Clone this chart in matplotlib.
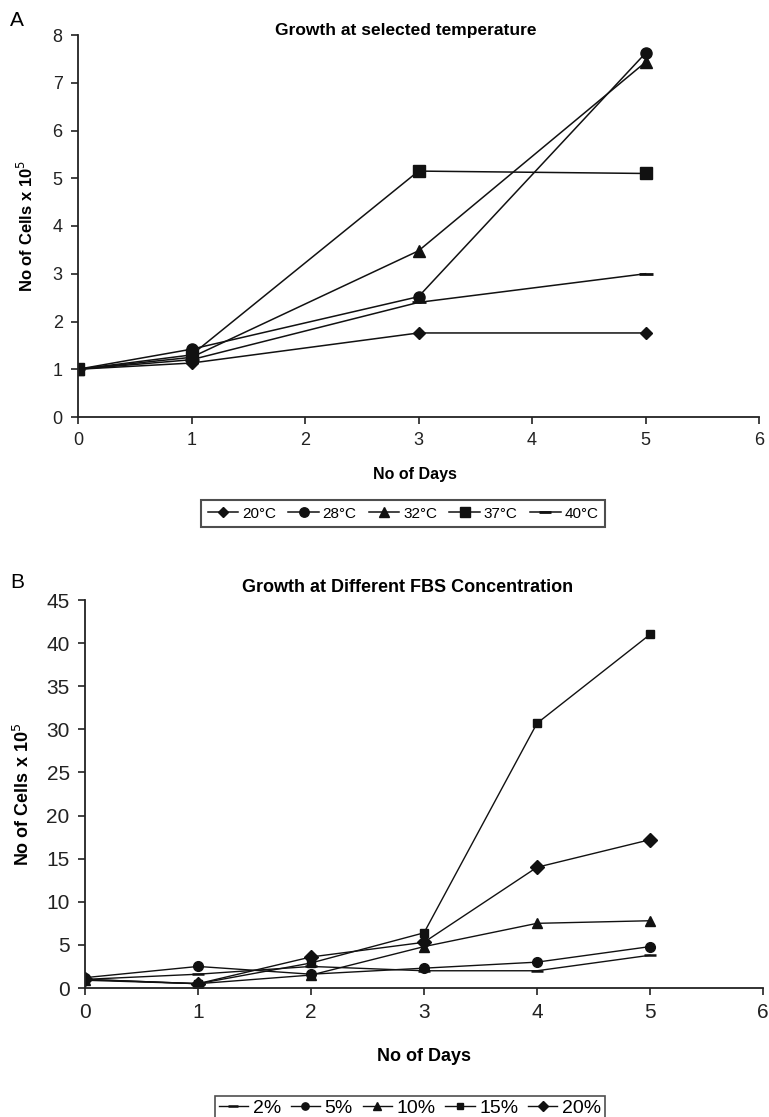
import matplotlib
matplotlib.use("Agg")
import matplotlib.pyplot as plt
from matplotlib import font_manager

# ---------------- data ----------------
days_a = [0, 1, 3, 5]
temp_labels = ["20°C", "28°C", "32°C", "37°C", "40°C"]
t20 = [1.0, 1.13, 1.76, 1.76]
t28 = [1.0, 1.42, 2.52, 7.62]
t32 = [1.0, 1.25, 3.48, 7.43]
t37 = [1.0, 1.30, 5.15, 5.10]
t40 = [1.0, 1.20, 2.40, 3.00]

days_b = [0, 1, 2, 3, 4, 5]
fbs_labels = ["2%", "5%", "10%", "15%", "20%"]
f2 = [1.0, 1.6, 2.5, 2.0, 2.0, 3.8]
f5 = [1.2, 2.5, 1.6, 2.3, 3.0, 4.8]
f10 = [0.9, 0.5, 1.5, 4.8, 7.5, 7.8]
f15 = [1.0, 0.5, 2.9, 6.4, 30.7, 41.0]
f20 = [1.0, 0.5, 3.6, 5.3, 14.0, 17.2]

# ---------------- fonts ----------------
names = {f.name for f in font_manager.fontManager.ttflist}
narrow = "Liberation Sans Narrow" if "Liberation Sans Narrow" in names else "Liberation Sans"
reg = "Liberation Sans"

W, H = 769, 1117
fig = plt.figure(figsize=(W / 100, H / 100), dpi=100)

def px_axes(x0, x1, ytop, ybot):
    return fig.add_axes([x0 / W, 1 - ybot / H, (x1 - x0) / W, (ybot - ytop) / H])

def style(ax, fam, tsize):
    for s in ["top", "right"]:
        ax.spines[s].set_visible(False)
    for s in ["left", "bottom"]:
        ax.spines[s].set_linewidth(1.3)
        ax.spines[s].set_color("#222222")
    ax.tick_params(direction="out", length=5, width=1.2, colors="#222222",
                   labelsize=tsize, pad=6)
    for lab in ax.get_xticklabels() + ax.get_yticklabels():
        lab.set_family(fam)

# ---------------- panel A ----------------
axA = px_axes(78, 759, 35, 417)
markersA = ["D", "o", "^", "s", "_"]
sizesA = [6, 8, 8, 8, 10]
for y, m, ms, lab in zip([t20, t28, t32, t37, t40], markersA, sizesA, temp_labels):
    axA.plot(days_a, y, color="#111111", lw=1.1, marker=m, ms=ms,
             mew=2 if m == "_" else 1, label=lab)
axA.set_xlim(0, 6)
axA.set_ylim(0, 8)
axA.set_xticks(range(0, 7))
axA.set_yticks(range(0, 9))
style(axA, narrow, 13)
axA.set_ylabel("No of Cells x 10$^5$", fontsize=12, fontweight="bold", family=reg)
axA.yaxis.set_label_coords(-0.062, 0.5)
axA.set_xlabel("No of Days", fontsize=11.5, fontweight="bold", family=reg)
axA.xaxis.set_label_coords(0.495, -0.13)
fig.text(406 / W, 1 - 30 / H, "Growth at selected temperature", ha="center", va="center",
         fontsize=12.5, fontweight="bold", family=narrow)
fig.text(10 / W, 1 - 20 / H, "A", ha="left", va="center", fontsize=15, family=reg)
legA = axA.legend(loc="upper center", bbox_to_anchor=(403 / W, 1 - 492 / H),
                  bbox_transform=fig.transFigure, ncol=5, frameon=True, fancybox=False,
                  edgecolor="#222222", prop={"family": narrow, "size": 11},
                  handlelength=2.0, columnspacing=0.8, handletextpad=0.25,
                  borderpad=0.45, markerscale=0.85)
legA.get_frame().set_linewidth(1.5)

# ---------------- panel B ----------------
axB = px_axes(85, 763, 600, 988)
markersB = ["_", "o", "^", "s", "D"]
sizesB = [9, 7, 7, 6, 7]
for y, m, ms, lab in zip([f2, f5, f10, f15, f20], markersB, sizesB, fbs_labels):
    axB.plot(days_b, y, color="#111111", lw=1.0, marker=m, ms=ms,
             mew=1.8 if m == "_" else 1, label=lab)
axB.set_xlim(0, 6)
axB.set_ylim(0, 45)
axB.set_xticks(range(0, 7))
axB.set_yticks(range(0, 46, 5))
style(axB, reg, 15)
axB.set_ylabel("No of Cells x 10$^5$", fontsize=13, fontweight="bold", family=reg)
axB.yaxis.set_label_coords(-0.077, 0.5)
axB.set_xlabel("No of Days", fontsize=13, fontweight="bold", family=reg)
axB.xaxis.set_label_coords(0.50, -0.155)
fig.text(408 / W, 1 - 587 / H, "Growth at Different FBS Concentration", ha="center",
         va="center", fontsize=13, fontweight="bold", family=reg)
fig.text(10 / W, 1 - 583 / H, "B", ha="left", va="center", fontsize=15, family=reg)
legB = axB.legend(loc="upper center", bbox_to_anchor=(410 / W, 1 - 1086 / H),
                  bbox_transform=fig.transFigure, ncol=5, frameon=True, fancybox=False,
                  edgecolor="#222222", prop={"family": reg, "size": 14},
                  handlelength=1.5, columnspacing=0.5, handletextpad=0.25,
                  borderpad=0.2, markerscale=0.75)
legB.get_frame().set_linewidth(1.2)

fig.savefig("out.png", dpi=100)
